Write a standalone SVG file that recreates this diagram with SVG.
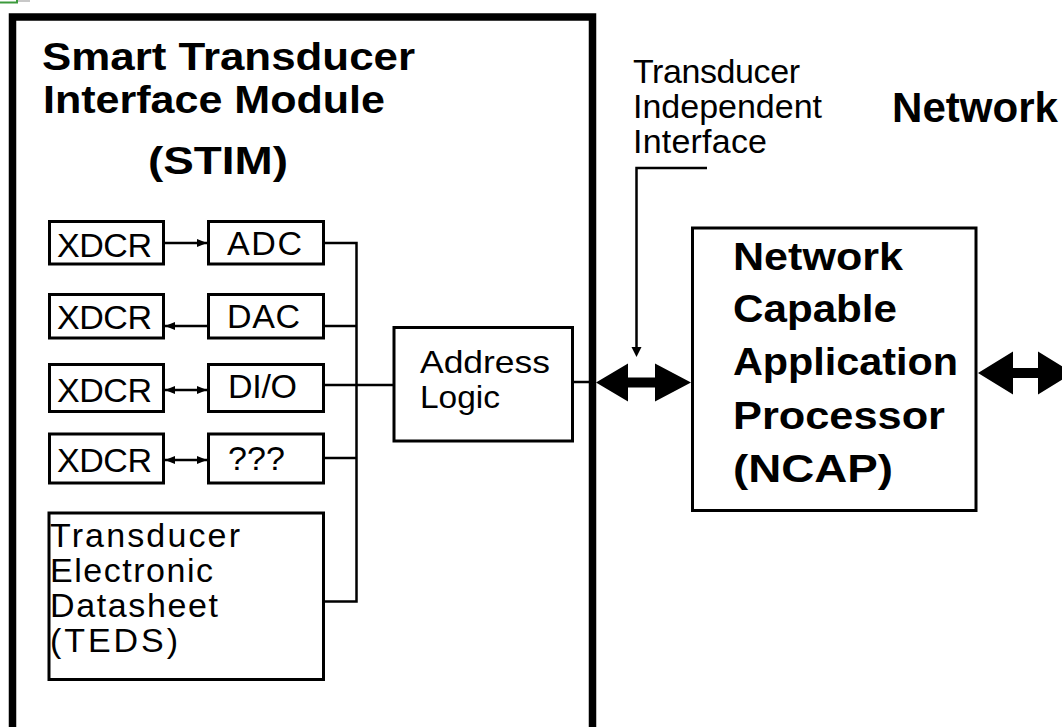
<svg xmlns="http://www.w3.org/2000/svg" width="1062" height="727" viewBox="0 0 1062 727">
<style>
.box{fill:#fff;stroke:#000;stroke-width:3}
.ln{fill:none;stroke:#000;stroke-width:2.5}
.t{font-family:"Liberation Sans",Arial,sans-serif;font-size:34px;fill:#000}
.b{font-family:"Liberation Sans",Arial,sans-serif;font-size:38px;font-weight:bold;fill:#000}
</style>
<defs>
<marker id="ah" viewBox="0 0 10 8" refX="10" refY="4" markerWidth="10" markerHeight="8" orient="auto-start-reverse" markerUnits="userSpaceOnUse"><path d="M0,0 L10,4 L0,8 z" fill="#000"/></marker>
</defs>
<rect width="1062" height="727" fill="#fff"/>
<g id="icon"><path d="M0,2.5 H17 V-2" fill="none" stroke="#3c9a3c" stroke-width="2"/><rect x="18" y="0" width="12" height="2" fill="#c8c8c8"/></g>

<g id="stim">
<path d="M12.5,740 V17 H592.5 V740" fill="none" stroke="#000" stroke-width="7.5"/>
<text class="b" x="42" y="70" textLength="373" lengthAdjust="spacingAndGlyphs">Smart Transducer</text>
<text class="b" x="43" y="113" textLength="342" lengthAdjust="spacingAndGlyphs">Interface Module</text>
<text class="b" x="148" y="174" textLength="140" lengthAdjust="spacingAndGlyphs">(STIM)</text>
</g>

<g id="connectors">
<line class="ln" x1="165" y1="243" x2="207" y2="243" marker-end="url(#ah)"/>
<line class="ln" x1="207" y1="326" x2="165" y2="326" marker-end="url(#ah)"/>
<line class="ln" x1="165" y1="390" x2="207" y2="390" marker-start="url(#ah)" marker-end="url(#ah)"/>
<line class="ln" x1="165" y1="460" x2="207" y2="460" marker-start="url(#ah)" marker-end="url(#ah)"/>
<path class="ln" d="M325,243 H356.5 V601.5 H325"/>
<path class="ln" d="M325,326 H356.5"/>
<path class="ln" d="M325,385 H393"/>
<path class="ln" d="M325,458 H356.5"/>
<path class="ln" d="M573,382 H589"/>
<path class="ln" d="M707,168 H636.5 V349"/>
<polygon points="631.5,347 641.5,347 636.5,357" fill="#000"/>
<polygon points="596,382.5 628,363.5 628,377.5 655,377.5 655,363.5 691,382.5 655,401.5 655,387.5 628,387.5 628,401.5" fill="#000"/>
<polygon points="978,373 1013,351.5 1013,368 1038,368 1038,351.5 1073,373 1038,394.5 1038,378 1013,378 1013,394.5" fill="#000"/>
</g>

<g id="xdcr1"><rect class="box" x="49.5" y="221.5" width="114" height="42.5"/><text class="t" x="57" y="257" textLength="95" lengthAdjust="spacing">XDCR</text></g>
<g id="adc"><rect class="box" x="208.5" y="221.5" width="115" height="42.5"/><text class="t" x="227" y="255" textLength="75" lengthAdjust="spacing">ADC</text></g>
<g id="xdcr2"><rect class="box" x="49.5" y="294.5" width="114" height="43.5"/><text class="t" x="57" y="329" textLength="95" lengthAdjust="spacing">XDCR</text></g>
<g id="dac"><rect class="box" x="208.5" y="294.5" width="115" height="43.5"/><text class="t" x="227" y="328" textLength="73" lengthAdjust="spacing">DAC</text></g>
<g id="xdcr3"><rect class="box" x="49.5" y="364.5" width="114" height="47"/><text class="t" x="57" y="402" textLength="95" lengthAdjust="spacing">XDCR</text></g>
<g id="dio"><rect class="box" x="208.5" y="364.5" width="115" height="47"/><text class="t" x="228" y="398" textLength="69" lengthAdjust="spacing">DI/O</text></g>
<g id="xdcr4"><rect class="box" x="49.5" y="434" width="114" height="49"/><text class="t" x="57" y="472" textLength="95" lengthAdjust="spacing">XDCR</text></g>
<g id="unknown"><rect class="box" x="208.5" y="434" width="115" height="49"/><text class="t" x="228" y="470" textLength="57" lengthAdjust="spacing">???</text></g>
<g id="teds"><rect class="box" x="49" y="513" width="274.5" height="166.5"/>
<text class="t" x="50" y="547" textLength="190" lengthAdjust="spacing">Transducer</text>
<text class="t" x="50" y="582" textLength="163" lengthAdjust="spacing">Electronic</text>
<text class="t" x="50" y="617" textLength="168" lengthAdjust="spacing">Datasheet</text>
<text class="t" x="50" y="652" textLength="128" lengthAdjust="spacing">(TEDS)</text>
</g>
<g id="address-logic"><rect class="box" x="394" y="327.5" width="178.5" height="113.5"/>
<text class="t" x="420" y="373" textLength="130" lengthAdjust="spacingAndGlyphs" style="font-size:32px">Address</text>
<text class="t" x="420" y="408" textLength="80" lengthAdjust="spacingAndGlyphs" style="font-size:32px">Logic</text>
</g>
<g id="tii-label">
<text class="t" x="633" y="83" textLength="167" lengthAdjust="spacing">Transducer</text>
<text class="t" x="633" y="118" textLength="189" lengthAdjust="spacing">Independent</text>
<text class="t" x="633" y="153" textLength="134" lengthAdjust="spacing">Interface</text>
</g>
<g id="ncap"><rect class="box" x="692.5" y="228" width="283.5" height="282.5"/>
<text class="b" x="733" y="270" textLength="170" lengthAdjust="spacingAndGlyphs">Network</text>
<text class="b" x="733" y="322" textLength="164" lengthAdjust="spacingAndGlyphs">Capable</text>
<text class="b" x="733" y="375" textLength="225" lengthAdjust="spacingAndGlyphs">Application</text>
<text class="b" x="733" y="429" textLength="212" lengthAdjust="spacingAndGlyphs">Processor</text>
<text class="b" x="733" y="482" textLength="160" lengthAdjust="spacingAndGlyphs">(NCAP)</text>
</g>
<g id="network-label"><text class="b" x="892" y="122" textLength="166" lengthAdjust="spacingAndGlyphs" style="font-size:42px">Network</text></g>
</svg>
